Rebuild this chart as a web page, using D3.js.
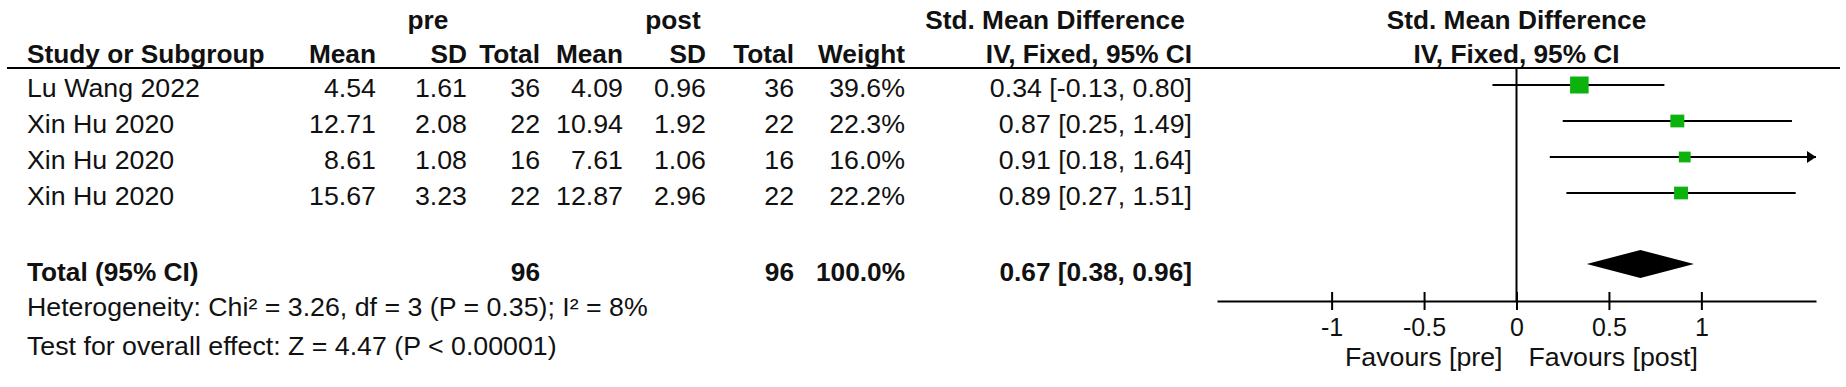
<!DOCTYPE html>
<html>
<head>
<meta charset="utf-8">
<title>Forest plot</title>
<script src="https://cdn.jsdelivr.net/npm/d3@7/dist/d3.min.js"></script>
<style>
  body { margin: 0; background: #fff; }
  svg { display: block; background: #fff; font-family: "Liberation Sans", Arial, sans-serif; }
</style>
</head>
<body>
<svg width="1846" height="387"></svg>
<script>
// study rows
const studies  = ["Lu Wang 2022", "Xin Hu 2020", "Xin Hu 2020", "Xin Hu 2020"];
const preMean  = [4.54, 12.71, 8.61, 15.67];
const preSD    = [1.61, 2.08, 1.08, 3.23];
const preN     = [36, 22, 16, 22];
const postMean = [4.09, 10.94, 7.61, 12.87];
const postSD   = [0.96, 1.92, 1.06, 2.96];
const postN    = [36, 22, 16, 22];
const weight   = [39.6, 22.3, 16.0, 22.2];
const smd      = [0.34, 0.87, 0.91, 0.89];
const ciLow    = [-0.13, 0.25, 0.18, 0.27];
const ciHigh   = [0.80, 1.49, 1.64, 1.51];

// pooled
const totalPreN = 96, totalPostN = 96, totalWeight = 100.0;
const totalSMD = 0.67, totalLow = 0.38, totalHigh = 0.96;

const heterogeneity = "Heterogeneity: Chi² = 3.26, df = 3 (P = 0.35); I² = 8%";
const overallTest   = "Test for overall effect: Z = 4.47 (P < 0.00001)";

const xTicks = [-1, -0.5, 0, 0.5, 1];
const xDomain = [-1.62, 1.62];

const svg = d3.select("svg");
const FS = 25;
// plain hyphen minus, like RevMan prints it
const f2 = v => v.toFixed(2);
const f1 = v => v.toFixed(1);

// text is a bit wider than Liberation Sans, so stretch it horizontally
function txt(x, y, s, anchor, bold) {
  return svg.append("text")
    .attr("transform", `translate(${x},${y}) scale(${bold ? 1.05 : 1.07},1)`)
    .attr("text-anchor", anchor || "start")
    .attr("font-size", FS)
    .attr("font-weight", bold ? "bold" : "normal")
    .attr("fill", "#111")
    .text(s);
}

// column right edges
const colX = { study: 27, preMean: 376, preSD: 467, preN: 540, postMean: 623,
               postSD: 706, postN: 794, weight: 905, ci: 1192 };

const y = d3.scaleLinear().domain([0, 1]).range([85, 121]);
const totalY = 264;
const textDy = 12;

const x = d3.scaleLinear().domain(xDomain).range([1217, 1816]);

// headers
txt(428, 29, "pre", "middle", true);
txt(673, 29, "post", "middle", true);
txt(1055, 29, "Std. Mean Difference", "middle", true);
txt(x(0), 29, "Std. Mean Difference", "middle", true);

txt(colX.study, 63, "Study or Subgroup", "start", true);
txt(colX.preMean, 63, "Mean", "end", true);
txt(colX.preSD, 63, "SD", "end", true);
txt(colX.preN, 63, "Total", "end", true);
txt(colX.postMean, 63, "Mean", "end", true);
txt(colX.postSD, 63, "SD", "end", true);
txt(colX.postN, 63, "Total", "end", true);
txt(colX.weight, 63, "Weight", "end", true);
txt(colX.ci, 63, "IV, Fixed, 95% CI", "end", true);
txt(x(0), 63, "IV, Fixed, 95% CI", "middle", true);

svg.append("line")
  .attr("x1", 7).attr("x2", 1840)
  .attr("y1", 68).attr("y2", 68)
  .attr("stroke", "#000").attr("stroke-width", 2);

// study rows text
studies.forEach((s, i) => {
  const yy = y(i) + textDy;
  txt(colX.study, yy, s);
  txt(colX.preMean, yy, f2(preMean[i]), "end");
  txt(colX.preSD, yy, f2(preSD[i]), "end");
  txt(colX.preN, yy, preN[i], "end");
  txt(colX.postMean, yy, f2(postMean[i]), "end");
  txt(colX.postSD, yy, f2(postSD[i]), "end");
  txt(colX.postN, yy, postN[i], "end");
  txt(colX.weight, yy, f1(weight[i]) + "%", "end");
  txt(colX.ci, yy, `${f2(smd[i])} [${f2(ciLow[i])}, ${f2(ciHigh[i])}]`, "end");
});

// total row
const ty = totalY + 17;
txt(colX.study, ty, "Total (95% CI)", "start", true);
txt(colX.preN, ty, totalPreN, "end", true);
txt(colX.postN, ty, totalPostN, "end", true);
txt(colX.weight, ty, f1(totalWeight) + "%", "end", true);
txt(colX.ci, ty, `${f2(totalSMD)} [${f2(totalLow)}, ${f2(totalHigh)}]`, "end", true);

txt(colX.study, 316, heterogeneity);
txt(colX.study, 355, overallTest);

// zero line
const axisY = 301;
svg.append("line")
  .attr("x1", x(0)).attr("x2", x(0))
  .attr("y1", 68).attr("y2", axisY)
  .attr("stroke", "#000").attr("stroke-width", 2);

// CI lines
const xMax = xDomain[1];
studies.forEach((s, i) => {
  const hi = Math.min(ciHigh[i], xMax);
  svg.append("line")
    .attr("x1", x(ciLow[i])).attr("x2", x(hi))
    .attr("y1", y(i)).attr("y2", y(i))
    .attr("stroke", "#000").attr("stroke-width", 2);
  if (ciHigh[i] > xMax) {
    const ax = x(xMax);
    svg.append("path")
      .attr("d", `M${ax},${y(i)} L${ax - 9},${y(i) - 6} L${ax - 9},${y(i) + 6} Z`)
      .attr("fill", "#000");
  }
});

// weight squares
studies.forEach((s, i) => {
  const w = 2.95 * Math.sqrt(weight[i]);
  const h = 2.7 * Math.sqrt(weight[i]);
  svg.append("rect")
    .attr("x", x(smd[i]) - w / 2).attr("y", y(i) - h / 2)
    .attr("width", w).attr("height", h)
    .attr("fill", "#0db30d");
});

// pooled diamond
const dh = 14;
svg.append("path")
  .attr("d", `M${x(totalLow)},${totalY} L${x(totalSMD)},${totalY - dh} L${x(totalHigh)},${totalY} L${x(totalSMD)},${totalY + dh} Z`)
  .attr("fill", "#000");

// axis
const axis = d3.axisBottom(x)
  .tickValues(xTicks)
  .tickFormat(d => String(d))
  .tickSizeOuter(0);

const ag = svg.append("g")
  .attr("transform", `translate(0,${axisY})`)
  .call(axis);

ag.attr("font-size", FS).attr("font-family", null);
ag.select(".domain").attr("stroke-width", 2).attr("stroke", "#000");
ag.selectAll(".tick line").attr("y1", -9).attr("y2", 9).attr("stroke-width", 2);
ag.selectAll(".tick text").attr("y", 17).attr("dy", "0.71em").attr("fill", "#111");

txt(x(0) - 14, 366, "Favours [pre]", "end");
txt(x(0) + 12, 366, "Favours [post]", "start");
</script>
</body>
</html>
